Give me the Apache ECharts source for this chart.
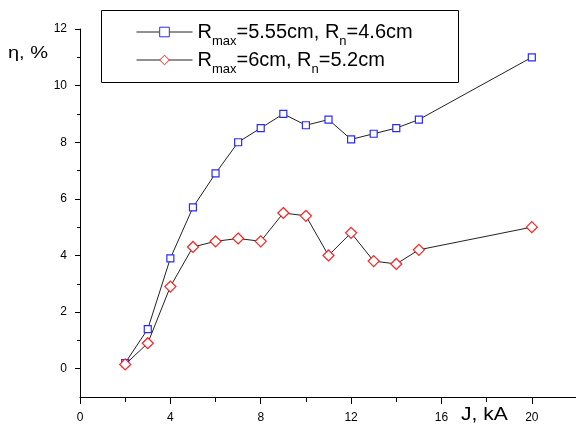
<!DOCTYPE html>
<html>
<head>
<meta charset="utf-8">
<script src="https://cdn.jsdelivr.net/npm/echarts@6/dist/echarts.min.js"></script>
<style>
  html, body { margin: 0; padding: 0; background: #fff; }
  #chart { width: 576px; height: 427px; }
</style>
</head>
<body>
<div id="chart"></div>
<script>
// Discharge current J (kA) and efficiency η (%) for two electrode geometries
const currentKA = [2, 3, 4, 5, 6, 7, 8, 9, 10, 11, 12, 13, 14, 15, 20];
const etaGeomA = [0.2, 1.4, 3.9, 5.7, 6.9, 8.0, 8.5, 9.0, 8.6, 8.8, 8.1, 8.3, 8.5, 8.8, 11.0];
const etaGeomB = [0.15, 0.9, 2.9, 4.3, 4.5, 4.6, 4.5, 5.5, 5.4, 4.0, 4.8, 3.8, 3.7, 4.2, 5.0];

const seriesNames = ['Rmax=5.55cm, Rn=4.6cm', 'Rmax=6cm, Rn=5.2cm'];
const legendTexts = [
  '{t|R}{s|max}{t|=5.55cm, R}{s|n}{t|=4.6cm}',
  '{t|R}{s|max}{t|=6cm, R}{s|n}{t|=5.2cm}'
];

// Tick positions
const xMajorTicks = [0, 4, 8, 12, 16, 20];
const xMinorTicks = [2, 6, 10, 14, 18];
const yMajorTicks = [0, 2, 4, 6, 8, 10, 12];
const yMinorTicks = [1, 3, 5, 7, 9, 11];

const FONT = '"Liberation Sans", Arial, sans-serif';

const pairs = (xs, ys) => xs.map((x, i) => [x, ys[i]]);

const chart = echarts.init(document.getElementById('chart'), null, { renderer: 'canvas' });

const xRange = { min: 0, max: 22 };
const yRange = { min: -1, max: 12 };

chart.setOption({
  animation: false,
  backgroundColor: '#fff',
  grid: { left: 80, top: 29, width: 497, height: 368, containLabel: false, outerBoundsMode: 'none' },
  xAxis: [
    {
      type: 'value', ...xRange, position: 'bottom',
      splitLine: { show: false },
      axisLine: { show: true, onZero: false, lineStyle: { color: '#000', width: 1 } },
      axisTick: { show: true, inside: false, length: 7, customValues: xMajorTicks, lineStyle: { color: '#000' } },
      axisLabel: { show: true, margin: 15, customValues: xMajorTicks, color: '#000', fontSize: 12, fontFamily: FONT }
    },
    {
      type: 'value', ...xRange, position: 'bottom',
      splitLine: { show: false },
      axisLine: { show: false, onZero: false },
      axisTick: { show: true, inside: false, length: 5, customValues: xMinorTicks, lineStyle: { color: '#000' } },
      axisLabel: { show: false }
    }
  ],
  yAxis: [
    {
      type: 'value', ...yRange, position: 'left',
      splitLine: { show: false },
      axisLine: { show: true, onZero: false, lineStyle: { color: '#000', width: 1 } },
      axisTick: { show: true, inside: false, length: 5, customValues: yMajorTicks, lineStyle: { color: '#000' } },
      axisLabel: { show: true, margin: 13, customValues: yMajorTicks, color: '#000', fontSize: 12, fontFamily: FONT }
    },
    {
      type: 'value', ...yRange, position: 'left',
      splitLine: { show: false },
      axisLine: { show: false, onZero: false },
      axisTick: { show: true, inside: false, length: 3, customValues: yMinorTicks, lineStyle: { color: '#000' } },
      axisLabel: { show: false }
    }
  ],
  legend: {
    orient: 'vertical',
    left: 136,
    top: 22,
    padding: 0,
    itemGap: 2,
    itemWidth: 56,
    itemHeight: 12,
    selectedMode: false,
    data: seriesNames,
    formatter: name => legendTexts[seriesNames.indexOf(name)],
    itemStyle: { borderWidth: 1 },
    lineStyle: { width: 1 },
    textStyle: {
      color: '#000',
      rich: {
        t: { fontSize: 20, fontFamily: FONT, color: '#000', lineHeight: 32 },
        s: { fontSize: 13, fontFamily: FONT, color: '#000', lineHeight: 13, verticalAlign: 'bottom' }
      }
    }
  },
  graphic: [
    {
      type: 'rect', z: 0,
      shape: { x: 101.5, y: 10.5, width: 357, height: 72 },
      style: { fill: '#fff', stroke: '#000', lineWidth: 1 }
    },
    {
      type: 'text', x: 8, y: 53, scaleY: 0.85,
      style: { text: 'η, %', fontSize: 20, fontFamily: FONT, fill: '#000', align: 'left', verticalAlign: 'middle' }
    },
    {
      type: 'text', x: 461, y: 415, scaleY: 0.85,
      style: { text: 'J, kA', fontSize: 21, fontFamily: FONT, fill: '#000', align: 'left', verticalAlign: 'middle' }
    }
  ],
  series: [
    {
      name: seriesNames[0], type: 'line', xAxisIndex: 0, yAxisIndex: 0,
      data: pairs(currentKA, etaGeomA),
      symbol: 'rect', symbolSize: 7,
      itemStyle: { color: '#fff', borderColor: '#2a2aff', borderWidth: 1.2 },
      lineStyle: { color: '#222', width: 1 },
      emphasis: { disabled: true }, z: 3
    },
    {
      name: seriesNames[1], type: 'line', xAxisIndex: 0, yAxisIndex: 0,
      data: pairs(currentKA, etaGeomB),
      symbol: 'diamond', symbolSize: 11,
      itemStyle: { color: '#fff', borderColor: '#ff2020', borderWidth: 1.2 },
      lineStyle: { color: '#222', width: 1 },
      emphasis: { disabled: true }, z: 4
    }
  ]
});
</script>
</body>
</html>
